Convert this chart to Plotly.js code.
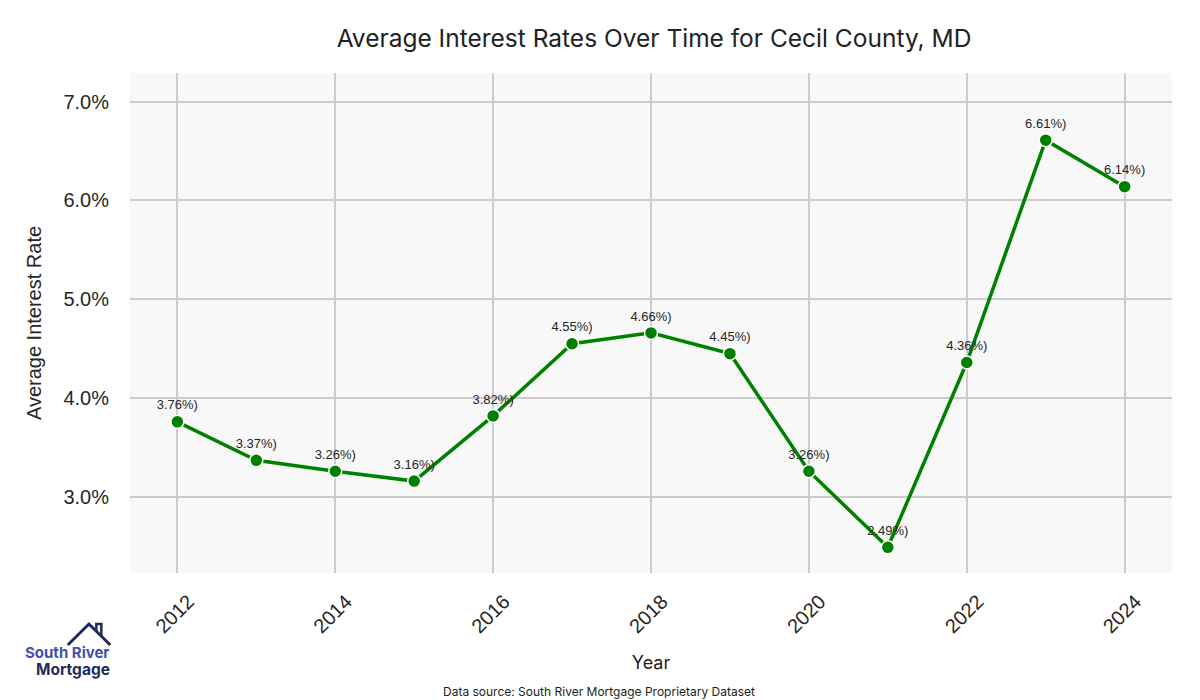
<!DOCTYPE html>
<html>
<head>
<meta charset="utf-8">
<script src="https://cdn.plot.ly/plotly-3.0.1.min.js"></script>
<style>html,body{margin:0;padding:0;background:#fff;}#chart{width:1200px;height:700px;}</style>
</head>
<body>
<div id="chart"></div>
<script>
const years = [2012, 2013, 2014, 2015, 2016, 2017, 2018, 2019, 2020, 2021, 2022, 2023, 2024];
const rates = [3.76, 3.37, 3.26, 3.16, 3.82, 4.55, 4.66, 4.45, 3.26, 2.49, 4.36, 6.61, 6.14];
const pointLabels = rates.map(v => v.toFixed(2) + '%)');
const yTickVals = [3, 4, 5, 6, 7];
const yTickText = ['3.0%', '4.0%', '5.0%', '6.0%', '7.0%'];
const xTickVals = [2012, 2014, 2016, 2018, 2020, 2022, 2024];

const trace = {
  x: years,
  y: rates,
  mode: 'lines+markers+text',
  text: pointLabels,
  textposition: 'top center',
  textfont: {family: 'Liberation Sans, Arial, sans-serif', size: 13, color: '#262626'},
  line: {color: '#008000', width: 3.5},
  marker: {color: '#008000', size: 13, line: {color: '#ffffff', width: 1.5}},
  hoverinfo: 'x+y',
  cliponaxis: false
};

const layout = {
  width: 1200, height: 700,
  margin: {l: 130, r: 28, t: 73, b: 127},
  paper_bgcolor: '#ffffff',
  plot_bgcolor: '#f8f8f8',
  showlegend: false,
  title: {text: 'Average Interest Rates Over Time for Cecil County, MD', x: 0.545, xanchor: 'center', y: 0.945, yanchor: 'middle',
          font: {family: 'Inter, Lato, sans-serif', size: 24.5, color: '#222'}},
  xaxis: {
    range: [2011.4, 2024.6],
    tickvals: xTickVals,
    ticktext: xTickVals.map(String),
    tickangle: -45,
    ticklabelshift: 11,
    ticklabelstandoff: 12,
    tickfont: {family: 'Liberation Sans, Arial, sans-serif', size: 20, color: '#262626'},
    showgrid: true, gridcolor: '#cccccc', gridwidth: 1.5,
    zeroline: false, showline: false, ticks: '',
    title: {text: 'Year', font: {family: 'Inter, Lato, sans-serif', size: 18, color: '#222'}, standoff: 20}
  },
  yaxis: {
    range: [2.23, 7.29],
    tickvals: yTickVals,
    ticktext: yTickText,
    tickfont: {family: 'Liberation Sans, Arial, sans-serif', size: 20, color: '#262626'},
    showgrid: true, gridcolor: '#cccccc', gridwidth: 1.5,
    zeroline: false, showline: false, ticks: 'outside', ticklen: 16, tickcolor: 'rgba(0,0,0,0)',
    title: {text: 'Average Interest Rate', font: {family: 'Liberation Sans, Arial, sans-serif', size: 20, color: '#262626'}, standoff: 16}
  },
  annotations: [
    {text: 'Data source: South River Mortgage Proprietary Dataset', xref: 'paper', yref: 'paper',
     x: 0.45, y: -0.237, xanchor: 'center', yanchor: 'middle', showarrow: false,
     font: {family: 'Inter, Lato, sans-serif', size: 12, color: '#222'}},
    {text: '<b>South River</b>', xref: 'paper', yref: 'paper', x: -0.103, y: -0.158, xanchor: 'left', yanchor: 'middle', showarrow: false,
     font: {family: 'Inter, Lato, sans-serif', size: 15, color: '#4052a8'}},
    {text: '<b>Mortgage</b>', xref: 'paper', yref: 'paper', x: -0.092, y: -0.192, xanchor: 'left', yanchor: 'middle', showarrow: false,
     font: {family: 'Inter, Lato, sans-serif', size: 15.5, color: '#1f2a5c'}}
  ],
  shapes: [
    {type: 'path', xref: 'paper', yref: 'paper', layer: 'above',
     path: 'M -0.0597 -0.144 L -0.0394 -0.102 L -0.0189 -0.144',
     line: {color: '#1f2a5c', width: 3}},
    {type: 'path', xref: 'paper', yref: 'paper', layer: 'above',
     path: 'M -0.0323 -0.117 L -0.0323 -0.102 L -0.0275 -0.102 L -0.0275 -0.128',
     line: {color: '#1f2a5c', width: 2.5}}
  ]
};

Plotly.newPlot('chart', [trace], layout, {displayModeBar: false});
</script>
</body>
</html>
